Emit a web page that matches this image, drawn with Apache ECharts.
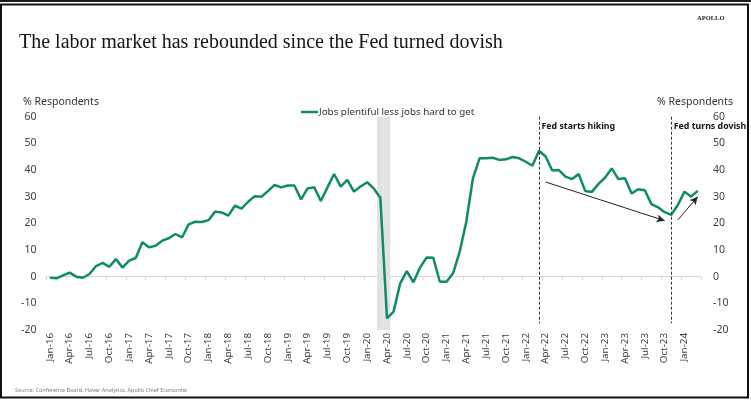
<!DOCTYPE html>
<html>
<head>
<meta charset="utf-8">
<script src="https://cdn.jsdelivr.net/npm/echarts@6/dist/echarts.min.js"></script>
<style>
  html, body { margin: 0; padding: 0; background: #ffffff; }
  #chart { width: 751px; height: 403px; }
</style>
</head>
<body>
<div id="chart"></div>
<script>
// Month labels, Jan-16 through Mar-24
const monthNames = ['Jan', 'Feb', 'Mar', 'Apr', 'May', 'Jun', 'Jul', 'Aug', 'Sep', 'Oct', 'Nov', 'Dec'];
const years = ['16', '17', '18', '19', '20', '21', '22', '23', '24'];
const categories = [];
years.forEach(function (y) {
  monthNames.forEach(function (m) {
    if (categories.length < 99) categories.push(m + '-' + y);
  });
});

// Conference Board labor differential: jobs plentiful less jobs hard to get (% respondents)
const labelDiff = [
  -0.4, -0.6, 0.5, 1.5, 0.0, -0.4, 1.0, 4.0, 5.2, 3.7, 6.6, 3.4,
  6.0, 7.0, 12.9, 11.0, 11.6, 13.5, 14.4, 16.0, 14.7, 19.6, 20.6, 20.5,
  21.2, 24.4, 24.1, 22.9, 26.6, 25.5, 28.1, 30.2, 30.0, 32.1, 34.4, 33.5,
  34.2, 34.2, 29.0, 33.1, 33.5, 28.4, 33.5, 38.5, 33.8, 36.3, 31.9, 33.8,
  35.4, 33.1, 29.6, -15.6, -13.1, -2.5, 2.1, -2.1, 3.4, 7.2, 7.1, -1.9,
  -1.9, 1.25, 9.4, 20.6, 36.9, 44.4, 44.4, 44.6, 43.8, 44.0, 44.9, 44.4,
  43.1, 41.6, 47.2, 45.1, 39.8, 40.0, 37.5, 36.6, 38.5, 32.1, 31.8, 34.8,
  37.2, 40.6, 36.6, 36.9, 31.2, 32.8, 32.4, 27.2, 26.0, 24.2, 23.2, 26.9,
  31.9, 30.0, 32.2
];

// Recession months (shaded)
const recessionMonths = ['Mar-20', 'Apr-20'];

// Policy events marked with dashed verticals
const eventMonths = ['Mar-22', 'Nov-23'];
const eventLabels = ['Fed starts hiking', 'Fed turns dovish'];

// Trend arrows: [startMonth, startValue, endMonth, endValue]
const trendArrows = [
  ['Apr-22', 35.5, 'Oct-23', 21.0],
  ['Dec-23', 21.3, 'Mar-24', 30.0]
];

const yTicks = { min: -20, max: 60, step: 10 };

const seriesName = 'Jobs plentiful less jobs hard to get';
const lineColor = '#0f8a6b';
const axisFont = 'Noto Sans';

const chart = echarts.init(document.getElementById('chart'), null, { renderer: 'canvas' });

const shadeTop = categories.map(function (c) { return recessionMonths.indexOf(c) >= 0 ? yTicks.max : '-'; });
const shadeBottom = categories.map(function (c) { return recessionMonths.indexOf(c) >= 0 ? yTicks.min : '-'; });

const markLineData = [];
eventMonths.forEach(function (m) {
  markLineData.push([
    { coord: [m, yTicks.max], symbol: 'none', lineStyle: { type: [3, 2], color: '#333333', width: 1 } },
    { coord: [m, -17.5], symbol: 'none' }
  ]);
});
trendArrows.forEach(function (a) {
  markLineData.push([
    { coord: [a[0], a[1]], symbol: 'none', lineStyle: { type: 'solid', color: '#222222', width: 1 } },
    { coord: [a[2], a[3]], symbol: 'arrow', symbolSize: [6, 8] }
  ]);
});

const markPointData = eventMonths.map(function (m, i) {
  return { coord: [m, 56.5], name: eventLabels[i] };
});

const option = {
  animation: false,
  backgroundColor: '#ffffff',
  title: {
    text: 'The labor market has rebounded since the Fed turned dovish',
    left: 14,
    top: 28,
    textStyle: { fontFamily: 'Liberation Serif', fontSize: 20, fontWeight: 'normal', color: '#141414' }
  },
  legend: {
    data: [{ name: seriesName, icon: 'rect' }],
    left: 296,
    top: 102,
    itemWidth: 17,
    itemHeight: 2.5,
    textStyle: { fontFamily: axisFont, fontSize: 9.8, color: '#333333', padding: [0, 0, 0, -4] }
  },
  grid: { left: 46.5, top: 116.7, width: 654.5, height: 213.3 },
  xAxis: [
    {
      type: 'category',
      data: categories,
      boundaryGap: true,
      axisLine: { onZero: true, lineStyle: { color: '#d9d9d9', width: 1 } },
      axisTick: { show: true, interval: 2, length: 4, lineStyle: { color: '#d9d9d9' } },
      axisLabel: { show: false },
      splitLine: { show: false }
    },
    {
      type: 'category',
      data: categories,
      boundaryGap: true,
      position: 'bottom',
      axisLine: { show: false, onZero: false },
      axisTick: { show: false },
      axisLabel: { interval: 2, rotate: 90, margin: 3, fontFamily: axisFont, fontSize: 9.8, color: '#404040' },
      splitLine: { show: false }
    }
  ],
  yAxis: [
    {
      type: 'value', position: 'left', min: yTicks.min, max: yTicks.max, interval: yTicks.step,
      axisLine: { show: false }, axisTick: { show: false }, splitLine: { show: false },
      axisLabel: { margin: 10, fontFamily: axisFont, fontSize: 10.5, color: '#404040' }
    },
    {
      type: 'value', position: 'right', min: yTicks.min, max: yTicks.max, interval: yTicks.step,
      axisLine: { show: false }, axisTick: { show: false }, splitLine: { show: false },
      axisLabel: { margin: 12, fontFamily: axisFont, fontSize: 10.5, color: '#404040' }
    }
  ],
  series: [
    {
      name: 'shade-top', type: 'bar', xAxisIndex: 0, yAxisIndex: 0,
      data: shadeTop, barWidth: '100%', barGap: '-100%', silent: true, z: 1,
      itemStyle: { color: '#e2e2e2' }
    },
    {
      name: 'shade-bottom', type: 'bar', xAxisIndex: 0, yAxisIndex: 0,
      data: shadeBottom, barWidth: '100%', barGap: '-100%', silent: true, z: 1,
      itemStyle: { color: '#e2e2e2' }
    },
    {
      name: seriesName,
      type: 'line', xAxisIndex: 0, yAxisIndex: 0,
      data: labelDiff,
      symbol: 'none',
      z: 3,
      lineStyle: { color: lineColor, width: 2.5 },
      itemStyle: { color: lineColor },
      markLine: {
        silent: true,
        symbol: ['none', 'none'],
        label: { show: false },
        emphasis: { disabled: true },
        data: markLineData
      },
      markPoint: {
        silent: true,
        symbol: 'rect',
        symbolSize: 1,
        itemStyle: { color: 'rgba(0,0,0,0)' },
        label: {
          show: true, position: 'right', distance: 2,
          formatter: '{b}',
          fontFamily: axisFont, fontWeight: 'bold', fontSize: 8.8, color: '#111111'
        },
        data: markPointData
      }
    }
  ],
  graphic: [
    { type: 'line', shape: { x1: 0, y1: 1, x2: 751, y2: 1 }, style: { stroke: '#1a1a1a', lineWidth: 2 }, silent: true },
    { type: 'rect', shape: { x: 1, y: 4.5, width: 747, height: 393 }, style: { fill: 'none', stroke: '#111111', lineWidth: 2 }, silent: true },
    { type: 'text', left: 697, top: 15, style: { text: 'APOLLO', font: 'bold 6.5px "Liberation Serif"', fill: '#222222' }, silent: true },
    { type: 'text', left: 23, top: 97, style: { text: '% Respondents', font: '10.5px "Noto Sans"', fill: '#333333' }, silent: true },
    { type: 'text', left: 657, top: 97, style: { text: '% Respondents', font: '10.5px "Noto Sans"', fill: '#333333' }, silent: true },
    { type: 'text', left: 15, top: 387, style: { text: 'Source: Conference Board, Haver Analytics, Apollo Chief Economist', font: '5.5px "Noto Sans"', fill: '#808080' }, silent: true }
  ]
};

chart.setOption(option);
</script>
</body>
</html>
